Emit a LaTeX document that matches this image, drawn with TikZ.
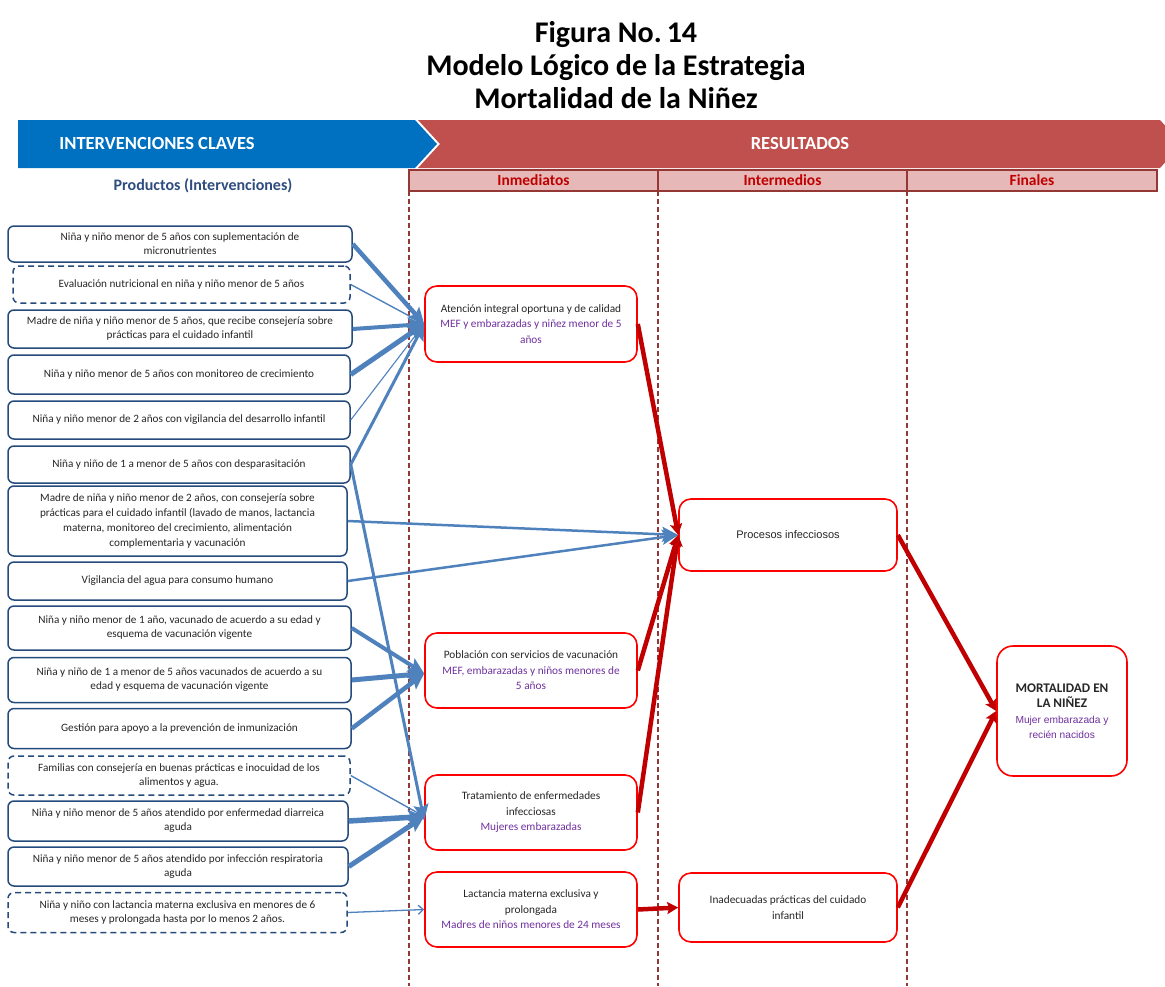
\documentclass[tikz,border=0pt]{standalone}
\usepackage{fontspec}
\setmainfont{Carlito}
\newfontfamily\arialfont{Liberation Sans}
\usetikzlibrary{arrows.meta}

\definecolor{bannerblue}{HTML}{0070C0}
\definecolor{bannerred}{HTML}{C0504D}
\definecolor{headfill}{HTML}{E6B8B7}
\definecolor{headline}{HTML}{953735}
\definecolor{headtext}{HTML}{C00000}
\definecolor{boxblue}{HTML}{254A7C}
\definecolor{arrowblue}{HTML}{4F81BD}
\definecolor{arrowred}{HTML}{C00000}
\definecolor{boxred}{HTML}{FF0000}
\definecolor{subpurple}{HTML}{7030A0}
\definecolor{bodytext}{HTML}{262626}
\definecolor{prodtitle}{HTML}{2E4C7E}

\newcommand{\subtxt}[1]{\textcolor{subpurple}{#1}}
\newcommand{\mortfont}{\rmfamily\fontsize{13.2}{17}\bfseries\selectfont}
\newcommand{\mortsub}{\arialfont\fontsize{10.2}{14}\selectfont}

\tikzset{
  prod/.style={draw=boxblue, line width=1.5pt, rounded corners=6pt, fill=white,
    align=center, text=bodytext, font=\fontsize{11.2}{14}\selectfont, inner sep=0pt},
  prodd/.style={prod, dash pattern=on 6pt off 4pt},
  res/.style={draw=boxred, line width=1.6pt, rounded corners=12pt, fill=white,
    align=center, text=bodytext, font=\fontsize{11.3}{15.5}\selectfont, inner sep=0pt,
    minimum width=212pt},
  head/.style={draw=headline, line width=1.4pt, fill=headfill, text=headtext,
    font=\fontsize{15.5}{18}\bfseries\selectfont, minimum height=21pt, inner sep=0pt},
  vline/.style={draw=headline, line width=1.2pt, dash pattern=on 5pt off 3pt},
  bthick/.style={draw=arrowblue, -{Stealth[length=16pt,width=15pt,inset=3pt]}},
  bthin/.style={draw=arrowblue, line width=1.4pt, -{Stealth[length=10pt,width=9pt,inset=2pt]}},
  bopen/.style={draw=arrowblue, line width=1.3pt, -{Straight Barb[length=5pt,width=9pt]}},
  rarr/.style={draw=arrowred, line width=4.5pt, -{Stealth[length=11pt,width=12pt,inset=2pt]}},
}

\begin{document}
\begin{tikzpicture}[x=1pt,y=-1pt]
\useasboundingbox (0,0) rectangle (1165,986);

% title
\node[align=center, font=\fontsize{30}{33}\bfseries\selectfont] (title) at (616,65)
  {Figura No.\,14\\Modelo Lógico de la Estrategia\\Mortalidad de la Niñez};

% banners
\fill[bannerblue] (18,120) -- (415,120) -- (437,144) -- (415,168) -- (18,168) -- cycle;
\fill[bannerred] (418,120) -- (1160,120) -- (1182,144) -- (1160,168) -- (418,168) -- (440,144) -- cycle;
\node[text=white, font=\fontsize{18.5}{20}\bfseries\selectfont] (intv) at (157,143) {INTERVENCIONES CLAVES};
\node[text=white, font=\fontsize{18.5}{20}\bfseries\selectfont] (resu) at (800,143) {RESULTADOS};

% column headers
\node[head, minimum width=249pt] (h1) at (533.5,180.5) {Inmediatos};
\node[head, minimum width=249pt] (h2) at (782.5,180.5) {Intermedios};
\node[head, minimum width=250pt] (h3) at (1032,180.5) {Finales};
\node[text=prodtitle, font=\fontsize{16}{18}\bfseries\selectfont] (prodh) at (203,186) {Productos (Intervenciones)};

% column separators
\draw[vline] (409,191) -- (409,986);
\draw[vline] (658,191) -- (658,986);
\draw[vline] (907,191) -- (907,986);

% products
\node[prod, minimum width=344pt, minimum height=36pt] (p1) at (180,244)
  {Niña y niño menor de 5 años con suplementación de\\micronutrientes};
\node[prodd, minimum width=337pt, minimum height=37pt] (p2) at (181.5,284.5)
  {Evaluación nutricional en niña y niño menor de 5 años};
\node[prod, minimum width=344pt, minimum height=38pt] (p3) at (180,329)
  {Madre de niña y niño menor de 5 años, que recibe consejería sobre\\prácticas para el cuidado infantil};
\node[prod, minimum width=342pt, minimum height=39pt] (p4) at (179,374.5)
  {Niña y niño menor de 5 años con monitoreo de crecimiento};
\node[prod, minimum width=342pt, minimum height=38pt] (p5) at (179,420)
  {Niña y niño menor de 2 años con vigilancia del desarrollo infantil};
\node[prod, minimum width=342pt, minimum height=37pt] (p6) at (179,464.5)
  {Niña y niño de 1 a menor de 5 años con desparasitación};
\node[prod, minimum width=339pt, minimum height=70pt, font=\fontsize{11.2}{15}\selectfont] (p7) at (177.5,521)
  {Madre de niña y niño menor de 2 años, con consejería sobre\\prácticas para el cuidado infantil (lavado de manos, lactancia\\materna, monitoreo del crecimiento, alimentación\\complementaria y vacunación};
\node[prod, minimum width=339pt, minimum height=38pt] (p8) at (177.5,581)
  {Vigilancia del agua para consumo humano};
\node[prod, minimum width=343pt, minimum height=44pt] (p9) at (179.5,628)
  {Niña y niño menor de 1 año, vacunado de acuerdo a su edad y\\esquema de vacunación vigente};
\node[prod, minimum width=343pt, minimum height=45pt] (p10) at (179.5,680)
  {Niña y niño de 1 a menor de 5 años vacunados de acuerdo a su\\edad y esquema de vacunación vigente};
\node[prod, minimum width=343pt, minimum height=40pt] (p11) at (179.5,728.5)
  {Gestión para apoyo a la prevención de inmunización};
\node[prodd, minimum width=342pt, minimum height=39pt] (p12) at (179,775.5)
  {Familias con consejería en buenas prácticas e inocuidad de los\\alimentos y agua.};
\node[prod, minimum width=340pt, minimum height=40pt] (p13) at (178,821)
  {Niña y niño menor de 5 años atendido por enfermedad diarreica\\aguda};
\node[prod, minimum width=340pt, minimum height=39pt] (p14) at (178,866.5)
  {Niña y niño menor de 5 años atendido por infección respiratoria\\aguda};
\node[prodd, minimum width=339pt, minimum height=40pt] (p15) at (177.5,912.5)
  {Niña y niño con lactancia materna exclusiva en menores de 6\\meses y prolongada hasta por lo menos 2 años.};

% immediate results
\node[res, minimum height=76pt] (atn) at (531,324)
  {Atención integral oportuna y de calidad\\\subtxt{MEF y embarazadas y niñez menor de 5}\\\subtxt{años}};
\node[res, minimum height=75pt] (pob) at (531,670.5)
  {Población con servicios de vacunación\\\subtxt{MEF, embarazadas y niños menores de}\\\subtxt{5 años}};
\node[res, minimum height=75pt] (trat) at (531,812.5)
  {Tratamiento de enfermedades\\infecciosas\\\subtxt{Mujeres embarazadas}};
\node[res, minimum height=75pt] (lact) at (531,909.5)
  {Lactancia materna exclusiva y\\prolongada\\\subtxt{Madres de niños menores de 24 meses}};

% intermediate results
\node[res, minimum width=218pt, minimum height=72pt, font=\arialfont\fontsize{11}{14}\selectfont] (proc) at (788,535)
  {Procesos infecciosos};
\node[res, minimum width=218pt, minimum height=69pt] (inad) at (788,907.5)
  {Inadecuadas prácticas del cuidado\\infantil};

% final result
\node[res, minimum width=130pt, minimum height=130pt, rounded corners=16pt] (mort) at (1062,711)
  {\mortfont MORTALIDAD EN\\\mortfont LA NIÑEZ\\\subtxt{\mortsub Mujer embarazada y}\\\subtxt{\mortsub recién nacidos}};

% products to immediate results
\draw[bthick, line width=4.5pt] (p1.east) -- (atn.west);
\draw[bthin] (p2.east) -- (atn.west);
\draw[bthick, line width=4pt] (p3.east) -- (atn.west);
\draw[bthick, line width=5pt] (p4.east) -- (atn.west);
\draw[bthin, line width=1.1pt] (p5.east) -- (atn.west);
\draw[bthick, line width=3pt] (p6.east) -- (atn.west);
\draw[bthick, line width=3pt] (p6.east) -- ([yshift=-8pt]trat.west);
\draw[bthick, line width=2.5pt] (p7.east) -- (proc.west);
\draw[bthick, line width=2.5pt] (p8.east) -- (proc.west);
\draw[bthick, line width=4pt] (p9.east) -- ([yshift=-3pt]pob.west);
\draw[bthick, line width=5pt] (p10.east) -- ([yshift=-3pt]pob.west);
\draw[bthick, line width=4.5pt] (p11.east) -- ([yshift=-3pt]pob.west);
\draw[bthin] (p12.east) -- ([yshift=-4pt]trat.west);
\draw[bthick, line width=5.5pt] (p13.east) -- ([yshift=-4pt]trat.west);
\draw[bthick, line width=5pt] (p14.east) -- ([yshift=-4pt]trat.west);
\draw[bopen] (p15.east) -- (lact.west);

% result chain
\draw[rarr] (atn.east) -- (proc.west);
\draw[rarr] (pob.east) -- (proc.west);
\draw[rarr] (trat.east) -- (proc.west);
\draw[rarr] (lact.east) -- (inad.west);
\draw[rarr] (proc.east) -- (mort.west);
\draw[rarr] (inad.east) -- (mort.west);
\end{tikzpicture}
\end{document}
